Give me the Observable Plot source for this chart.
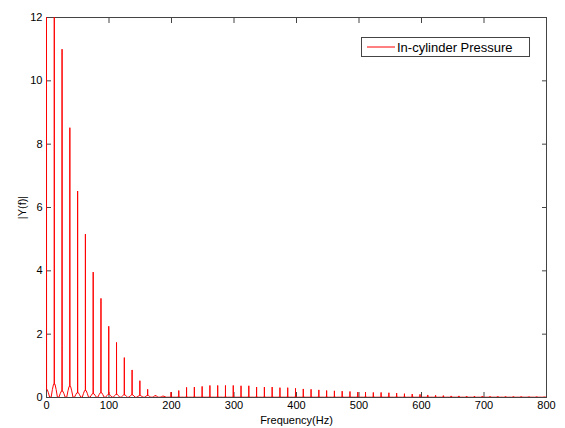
<!DOCTYPE html>
<html>
<head>
<meta charset="utf-8">
<script src="https://cdn.jsdelivr.net/npm/d3@7"></script>
<script src="https://cdn.jsdelivr.net/npm/@observablehq/plot@0.6"></script>
<style>
  html, body { margin: 0; padding: 0; background: #fff; }
  #wrap { position: relative; width: 565px; height: 428px; overflow: hidden; }
  #legend { position: absolute; left: 361px; top: 37px; width: 167px; height: 18px;
            border: 1px solid #444; background: #fff; font-family: "Liberation Sans", Arial, sans-serif;
            font-size: 13px; }
  #legend svg { position: absolute; left: 4px; top: 5px; }
  #legend .lbl { position: absolute; left: 35px; top: 1px; line-height: 17px; color: #000; white-space: nowrap; }
</style>
</head>
<body>
<div id="wrap"></div>
<script>
// Harmonic frequencies (Hz) of the spectral lines
const harmonicHz = [0,12.45,24.9,37.35,49.8,62.25,74.7,87.15,99.6,112.05,124.5,136.95,149.4,161.85,174.3,186.75,
  199.2,211.65,224.1,236.55,249,261.45,273.9,286.35,298.8,311.25,323.7,336.15,348.6,361.05,373.5,385.95,
  398.4,410.85,423.3,435.75,448.2,460.65,473.1,485.55,498,510.45,522.9,535.35,547.8,560.25,572.7,585.15,
  597.6,610.05,622.5,634.95,647.4,659.85,672.3,684.75,697.2,709.65,722.1,734.55,747,759.45,771.9,784.35,796.8];
// Peak |Y(f)| for each line
const peakAmp = [14.5,14.5,11.0,8.52,6.52,5.16,3.96,3.13,2.25,1.74,
  1.26,0.87,0.53,0.26,0.07,0.05,0.17,0.22,0.32,0.33,
  0.35,0.38,0.38,0.38,0.38,0.37,0.37,0.33,0.33,0.33,
  0.31,0.31,0.29,0.27,0.26,0.24,0.22,0.21,0.2,0.19,
  0.17,0.17,0.16,0.16,0.15,0.14,0.12,0.11,0.1,0.08,
  0.07,0.06,0.05,0.05,0.04,0.04,0.04,0.035,0.035,0.03,
  0.03,0.03,0.025,0.025,0.02];
// Secondary (shoulder) level of each line
const shoulderAmp = [0.3,6,1.65,0.35,0.7,0.25,0.35,0.2,0.15,0.12,0.1,0.08,0.06,0.04];
// Leakage skirt level around the base of each line
const skirtAmp = [0.25,0.42,0.2,0.35,0.15,0.22,0.12,0.15,0.1,0.1,0.08,0.08,0.06,0.06,0.05,0.04];
const troughAmp = 0.01;

const xTicks = [0,100,200,300,400,500,600,700,800];
const yTicks = [0,2,4,6,8,10,12];

// Build the spectrum polyline
const spectrum = [];
harmonicHz.forEach((f, i) => {
  const p = peakAmp[i];
  const s = i < skirtAmp.length ? skirtAmp[i] : 0.015;
  const sec = Math.max(i < shoulderAmp.length ? shoulderAmp[i] : s, s);
  if (i === 0) {
    spectrum.push({f: 0, a: p}, {f: 0.1, a: sec}, {f: 0.1, a: s}, {f: 1.2, a: s}, {f: 3, a: s * 0.6}, {f: 5, a: troughAmp});
    return;
  }
  spectrum.push(
    {f: f - 5, a: troughAmp}, {f: f - 3, a: s * 0.6}, {f: f - 1.2, a: s}, {f: f - 0.1, a: s},
    {f: f, a: p}, {f: f + 0.1, a: sec}, {f: f + 0.1, a: s}, {f: f + 1.2, a: s},
    {f: f + 3, a: s * 0.6}, {f: f + 5, a: troughAmp}
  );
});
spectrum.push({f: 800, a: troughAmp});

const blank = () => "";
const chart = Plot.plot({
  width: 565,
  height: 428,
  marginLeft: 46,
  marginRight: 19,
  marginTop: 17,
  marginBottom: 31,
  style: {fontFamily: "'Liberation Sans', Arial, sans-serif", fontSize: "11px", background: "#fff", color: "#000"},
  x: {domain: [0, 800]},
  y: {domain: [0, 12]},
  marks: [
    Plot.frame({stroke: "#444", strokeWidth: 1}),
    Plot.axisX(xTicks, {anchor: "bottom", tickSize: -5, tickFormat: blank, stroke: "#444", label: null}),
    Plot.axisX(xTicks, {anchor: "top", tickSize: -5, tickFormat: blank, stroke: "#444", label: null}),
    Plot.axisY(yTicks, {anchor: "left", tickSize: -5, tickFormat: blank, stroke: "#444", label: null}),
    Plot.axisY(yTicks, {anchor: "right", tickSize: -5, tickFormat: blank, stroke: "#444", label: null}),
    Plot.axisX(xTicks, {anchor: "bottom", tickSize: 0, tickPadding: 4, fontSize: 11,
      label: "Frequency(Hz)", labelAnchor: "center", labelArrow: "none", labelOffset: 26}),
    Plot.axisY(yTicks, {anchor: "left", tickSize: 0, tickPadding: 4, fontSize: 11,
      label: "|Y(f)|", labelAnchor: "center", labelArrow: "none", labelOffset: 28}),
    Plot.line(spectrum, {x: "f", y: "a", stroke: "#ff0000", strokeWidth: 1, clip: true})
  ]
});
const wrap = document.getElementById("wrap");
wrap.appendChild(chart);
const legend = document.createElement("div");
legend.id = "legend";
legend.innerHTML = '<svg width="30" height="8"><line x1="1" x2="29" y1="4" y2="4" stroke="#ff0000" stroke-width="1"/></svg><div class="lbl">In-cylinder Pressure</div>';
wrap.appendChild(legend);
</script>
</body>
</html>
